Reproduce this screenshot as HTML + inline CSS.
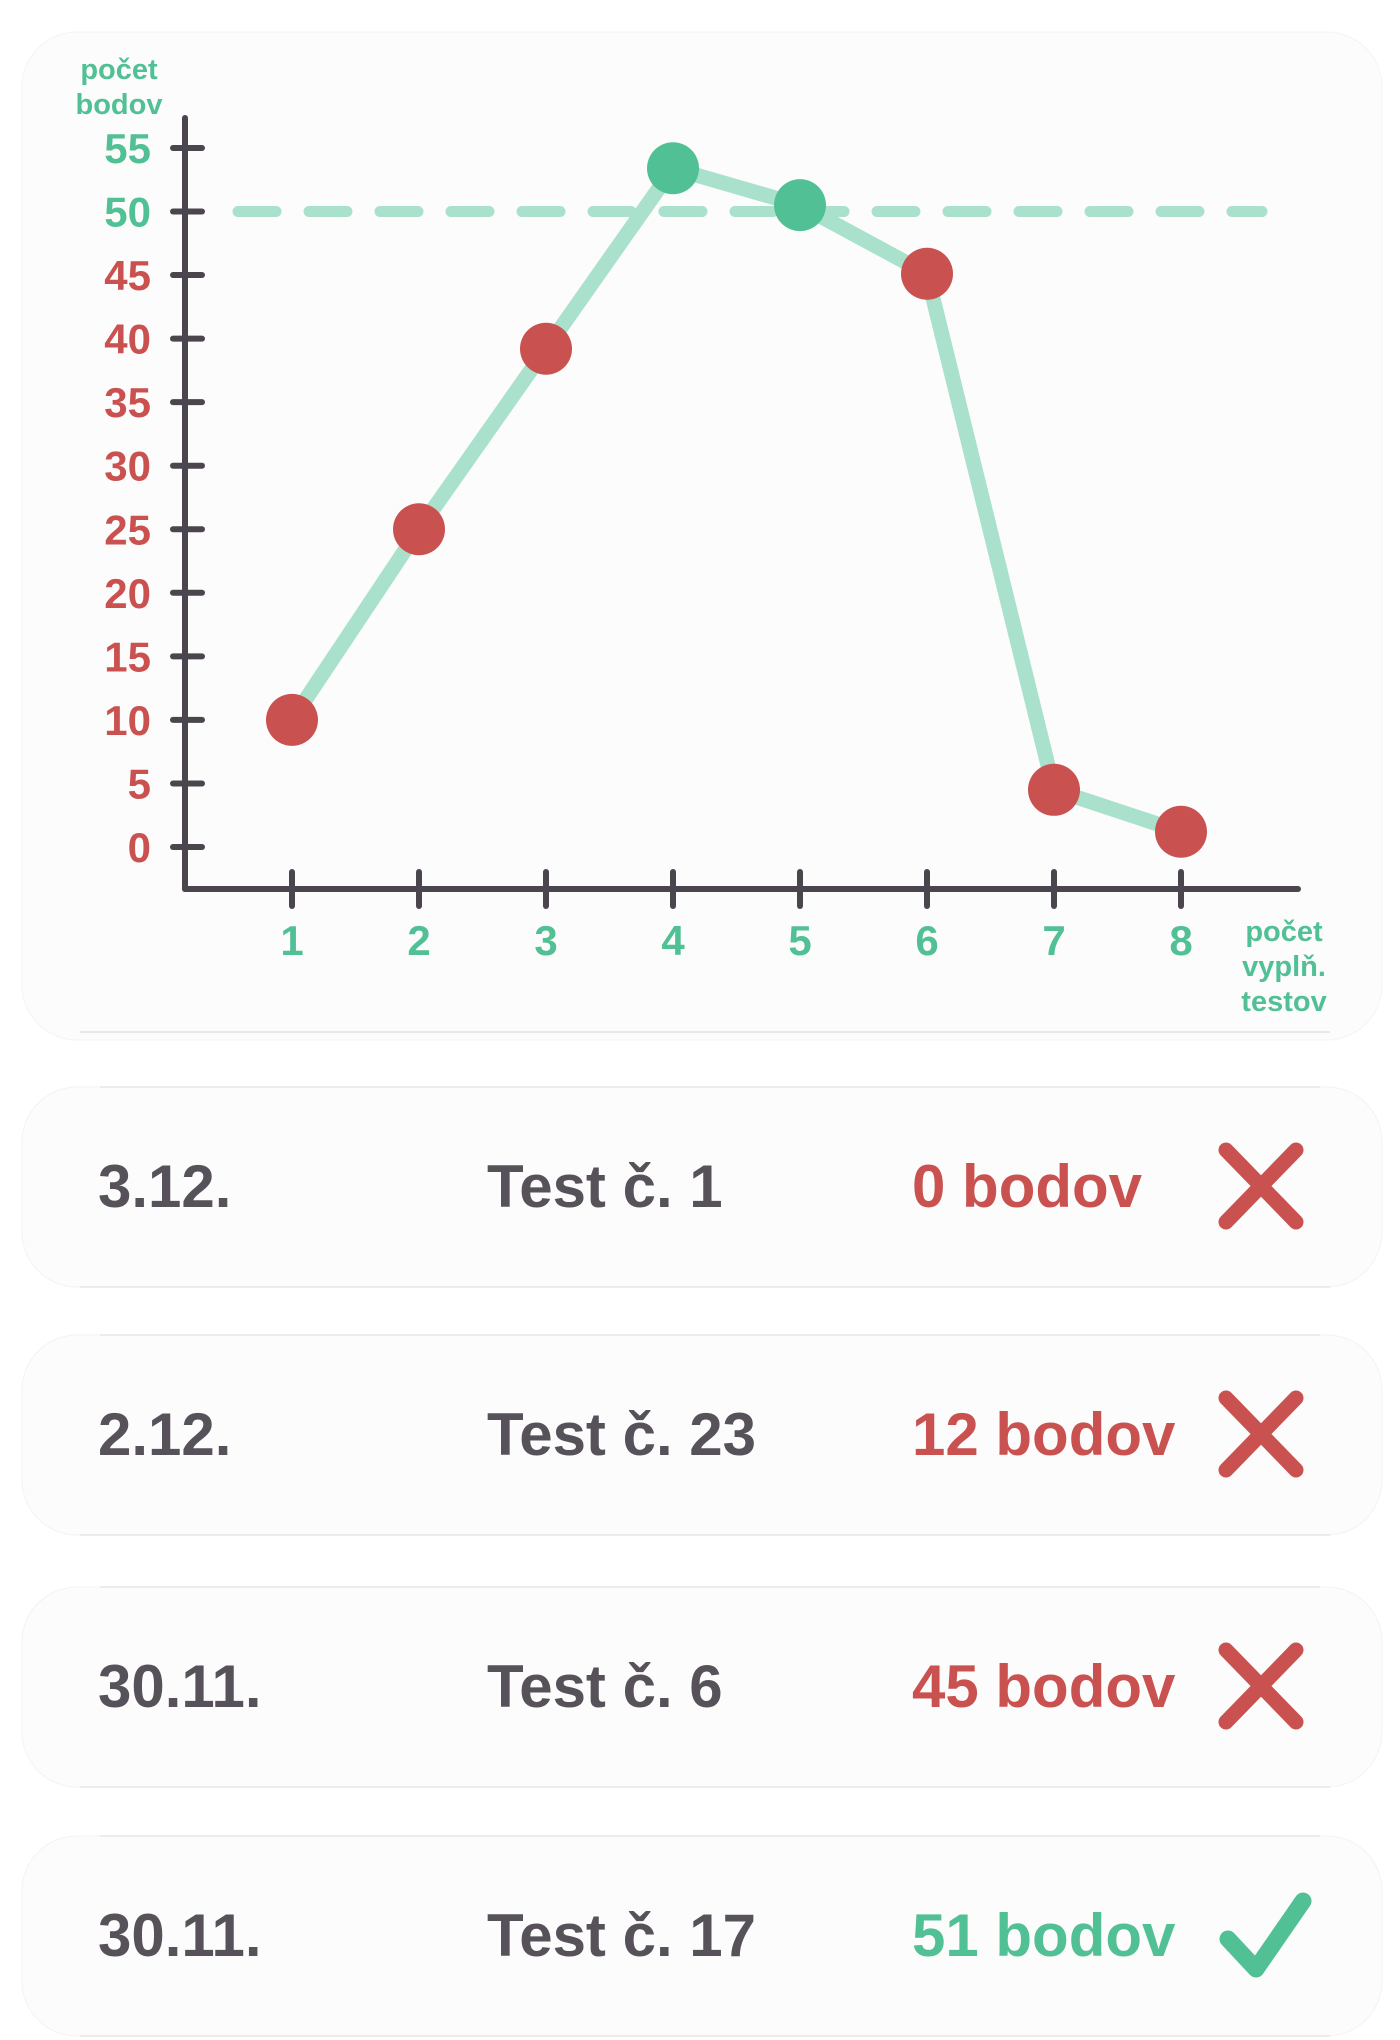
<!DOCTYPE html>
<html><head><meta charset="utf-8"><style>
html,body{margin:0;padding:0;background:#fff;}
svg{display:block;}
text{font-family:"Liberation Sans",sans-serif;font-weight:bold;}
</style></head><body>
<svg id="s" width="1400" height="2040" viewBox="0 0 1400 2040" xmlns="http://www.w3.org/2000/svg">
<rect x="22" y="32" width="1360" height="1008" rx="55" fill="#fcfcfc" stroke="#f4f4f4"/>
<line x1="80" y1="1032" x2="1330" y2="1032" stroke="#e8e8e8" stroke-width="2"/>
<g id="chart"></g>
<g id="rows"></g>
</svg>
<script>
const categories = [1,2,3,4,5,6,7,8];
const scores = [10,25,39.2,53.4,50.5,45.1,4.5,1.2];
const yTicks = [0,5,10,15,20,25,30,35,40,45,50,55];
const threshold = 50;
const rowDates = ["3.12.","2.12.","30.11.","30.11."];
const rowTests = ["Test č. 1","Test č. 23","Test č. 6","Test č. 17"];
const rowPoints = [0,12,45,51];

const NS="http://www.w3.org/2000/svg";
const RED="#c95250", GREEN="#52c095", LINE="#a9e1cc", AX="#4b464d", TXT="#57525a";
function el(t,a,p){const e=document.createElementNS(NS,t);for(const k in a)e.setAttribute(k,a[k]);p.appendChild(e);return e;}
const xS=v=>292+(v-1)*127;
const yS=v=>847-v*12.71;
const g=document.getElementById('chart');

let a=el('line',{x1:185,y1:118,x2:185,y2:889,stroke:AX,'stroke-width':6,'stroke-linecap':'round'},g);


a=el('line',{x1:185,y1:889,x2:1298,y2:889,stroke:AX,'stroke-width':6,'stroke-linecap':'round'},g);



yTicks.forEach(v=>{
  const y=yS(v);
  const t=el('line',{x1:173,y1:y,x2:202,y2:y,stroke:AX,'stroke-width':6,'stroke-linecap':'round'},g);
  
  
  const l=el('text',{x:151,y:y+15,'text-anchor':'end','font-size':42,fill:v>=threshold?GREEN:RED},g);
  l.textContent=v;
  
  
});
categories.forEach(c=>{
  const x=xS(c);
  const t=el('line',{x1:x,y1:872,x2:x,y2:906,stroke:AX,'stroke-width':6,'stroke-linecap':'round'},g);
  
  
  const l=el('text',{x:x,y:955,'text-anchor':'middle','font-size':42,fill:GREEN},g);
  l.textContent=c;
  
  
});
const yt=el('text',{x:119,y:79,'text-anchor':'middle','font-size':29,fill:GREEN},g);


el('tspan',{x:119,dy:0},yt).textContent='počet';
el('tspan',{x:119,dy:35},yt).textContent='bodov';
const xt=el('text',{x:1284,y:941,'text-anchor':'middle','font-size':29,fill:GREEN},g);


el('tspan',{x:1284,dy:0},xt).textContent='počet';
el('tspan',{x:1284,dy:35},xt).textContent='vyplň.';
el('tspan',{x:1284,dy:35},xt).textContent='testov';
const th=el('line',{x1:238,y1:yS(threshold),x2:1262,y2:yS(threshold),stroke:LINE,'stroke-width':11,'stroke-dasharray':'38 33','stroke-linecap':'round'},g);


const pl=el('polyline',{points:categories.map((c,i)=>xS(c)+','+yS(scores[i])).join(' '),fill:'none',stroke:LINE,'stroke-width':15,'stroke-linejoin':'round'},g);


categories.forEach((c,i)=>{
  const p=el('circle',{cx:xS(c),cy:yS(scores[i]),r:26,fill:scores[i]>=threshold?GREEN:RED},g);
  
  
});

const rg=document.getElementById('rows');
const tops=[1087,1335,1587,1836];
rowDates.forEach((d,i)=>{
  const top=tops[i], cy=top+99;
  const row=el('g',{},rg);
  
  
  el('rect',{x:22,y:top,width:1360,height:200,rx:55,fill:'#fcfcfc',stroke:'#f3f3f3'},row);
  el('line',{x1:100,y1:top,x2:1320,y2:top,stroke:'#ececec','stroke-width':2},row);
  el('line',{x1:80,y1:top+200,x2:1330,y2:top+200,stroke:'#ececec','stroke-width':2},row);
  const pass=rowPoints[i]>=threshold;
  let t=el('text',{x:98,y:cy+21,'font-size':60,fill:TXT},row);t.textContent=d;
  
  
  t=el('text',{x:487,y:cy+21,'font-size':60,fill:TXT},row);t.textContent=rowTests[i];
  
  
  t=el('text',{x:912,y:cy+21,'font-size':60,fill:pass?GREEN:RED},row);t.textContent=rowPoints[i]+' bodov';
  
  
  let ic;
  if(pass){
    ic=el('polyline',{points:`1228,${cy+4} 1256,${cy+34} 1303,${cy-34}`,fill:'none',stroke:GREEN,'stroke-width':17,'stroke-linecap':'round','stroke-linejoin':'round'},row);
    
  } else {
    ic=el('path',{d:`M1226,${cy-36} L1296,${cy+36} M1296,${cy-36} L1226,${cy+36}`,stroke:RED,'stroke-width':15,'stroke-linecap':'round'},row);
    
  }
  
});
</script>
</body></html>
